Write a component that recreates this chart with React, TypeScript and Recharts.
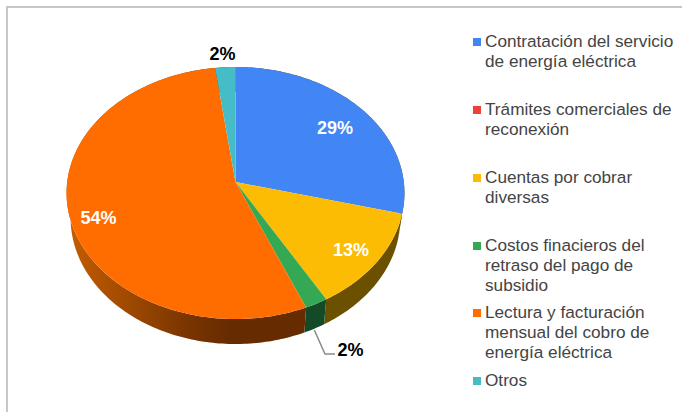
import React from 'react';
import { PieChart, Pie, Legend } from 'recharts';

const categories = [
  'Contratación del servicio\nde energía eléctrica',
  'Trámites comerciales de\nreconexión',
  'Cuentas por cobrar\ndiversas',
  'Costos finacieros del\nretraso del pago de\nsubsidio',
  'Lectura y facturación\nmensual del cobro de\nenergía eléctrica',
  'Otros',
];
const shares = [29, 0, 12.7, 2, 54.2, 2.1];
const colors = ['#4285F4', '#EA4335', '#FDBC04', '#34A853', '#FF6D01', '#46BDC6'];
const wallColors = ['#6B5000', '#6B1C14', '#6B5000', '#134A28', 'url(#orangeWall)', '#1E5257'];

const data = categories.map((name, i) => ({ name, value: shares[i], fill: colors[i] }));
const walls = categories.map((name, i) => ({ name, value: shares[i], fill: wallColors[i] }));

const FONT = '"Liberation Sans", Arial, sans-serif';
const PERSPECTIVE = 0.0873;
const SQUASH = 0.743;
const DEPTH = 25;
const WALL_SCALE = 0.976;

// text baselines of the value labels: [middle x, baseline y, colour]
const labelSpots: [number, number, string][] = [
  [335, 134, '#fff'],
  [0, 0, '#000'],
  [351, 256, '#fff'],
  [350.5, 356, '#000'],
  [98.5, 224, '#fff'],
  [222.5, 59.5, '#000'],
];
const legendTops = [31, 99, 167, 235, 302, 370];

// perspective projection of a point of the flat pie, the angle is in degrees as Recharts gives it
const rim = (cx: number, cy: number, r: number, deg: number) => {
  const a = (deg * Math.PI) / 180;
  const den = 1 + PERSPECTIVE * Math.sin(a);
  return { x: cx + (r * Math.cos(a)) / den, y: cy - (r * SQUASH * Math.sin(a)) / den };
};

const arcPoints = (p: any) => {
  const pts = [];
  const steps = Math.max(2, Math.ceil(Math.abs(p.endAngle - p.startAngle)));
  for (let i = 0; i <= steps; i++) {
    pts.push(rim(p.cx, p.cy, p.outerRadius, p.startAngle + ((p.endAngle - p.startAngle) * i) / steps));
  }
  return pts;
};

const toPath = (pts: { x: number; y: number }[]) =>
  pts.map((q, i) => `${i ? 'L' : 'M'}${q.x.toFixed(2)} ${q.y.toFixed(2)}`).join('') + 'Z';

const Face = (p: any) => {
  if (p.startAngle === p.endAngle) return null;
  return <path d={toPath([{ x: p.cx, y: p.cy }, ...arcPoints(p)])} fill={p.fill} />;
};

const Wall = (p: any) => {
  if (p.startAngle === p.endAngle) return null;
  const top = arcPoints(p);
  const bottom = top
    .map((q) => ({ x: p.cx + (q.x - p.cx) * WALL_SCALE, y: q.y + DEPTH }))
    .reverse();
  return <path d={toPath([...top, ...bottom])} fill={p.fill} />;
};

const ValueLabel = (p: any) => {
  if (!p.value) return null;
  const [x, y, color] = labelSpots[p.index];
  return (
    <g>
      {p.index === 3 && (
        <polyline points="314.3,330 325,354 335,354" fill="none" stroke="#8a8a8a" strokeWidth={1.5} />
      )}
      <text x={x} y={y} textAnchor="middle" fill={color} fontFamily={FONT} fontSize={18} fontWeight="bold">
        {`${Math.round(p.percent * 100)}%`}
      </text>
    </g>
  );
};

const LegendBlock = ({ payload }: any) => (
  <div style={{ position: 'relative', width: 682, height: 412 }}>
    {(payload || [])
      .filter((item: any) => colors.includes(item.color))
      .map((item: any, i: number) => (
        <div key={i} style={{ position: 'absolute', left: 473, top: legendTops[i] }}>
          <span
            style={{
              position: 'absolute',
              left: 0,
              top: 7,
              width: 8,
              height: 8,
              background: item.color,
            }}
          />
          <span
            style={{
              position: 'absolute',
              left: 12,
              top: 0,
              whiteSpace: 'pre',
              fontFamily: FONT,
              fontSize: 17.2,
              lineHeight: '20px',
              color: '#444',
            }}
          >
            {item.value}
          </span>
        </div>
      ))}
  </div>
);

export default function App() {
  return (
    <div style={{ position: 'absolute', left: 0, top: 0, width: 682, height: 412, overflow: 'hidden', background: '#fff' }}>
      <div
        style={{
          position: 'absolute',
          left: 6,
          top: 6,
          right: 0,
          bottom: 0,
          borderTop: '2px solid #c8c8c8',
          borderLeft: '2px solid #c8c8c8',
        }}
      />
      <PieChart width={682} height={412} margin={{ top: 0, right: 0, bottom: 0, left: 0 }} style={{ position: 'absolute', left: 0, top: 0 }}>
        <defs>
          <linearGradient id="orangeWall" gradientUnits="userSpaceOnUse" x1={67} y1={0} x2={305} y2={0}>
            <stop offset="0" stopColor="#C65C00" />
            <stop offset="0.25" stopColor="#A04A00" />
            <stop offset="0.5" stopColor="#7A3500" />
            <stop offset="0.68" stopColor="#662C00" />
            <stop offset="1" stopColor="#662C00" />
          </linearGradient>
        </defs>
        <Pie
          data={walls}
          dataKey="value"
          nameKey="name"
          cx={235.5}
          cy={182}
          outerRadius={168.3}
          startAngle={90}
          endAngle={-270}
          legendType="none"
          shape={Wall}
          isAnimationActive={false}
        />
        <Pie
          data={data}
          dataKey="value"
          nameKey="name"
          cx={235.5}
          cy={182}
          outerRadius={168.3}
          startAngle={90}
          endAngle={-270}
          shape={Face}
          label={ValueLabel}
          labelLine={false}
          isAnimationActive={false}
        />
        <Legend content={LegendBlock} itemSorter={null} wrapperStyle={{ left: 0, top: 0, width: 682, height: 412 }} />
      </PieChart>
    </div>
  );
}
